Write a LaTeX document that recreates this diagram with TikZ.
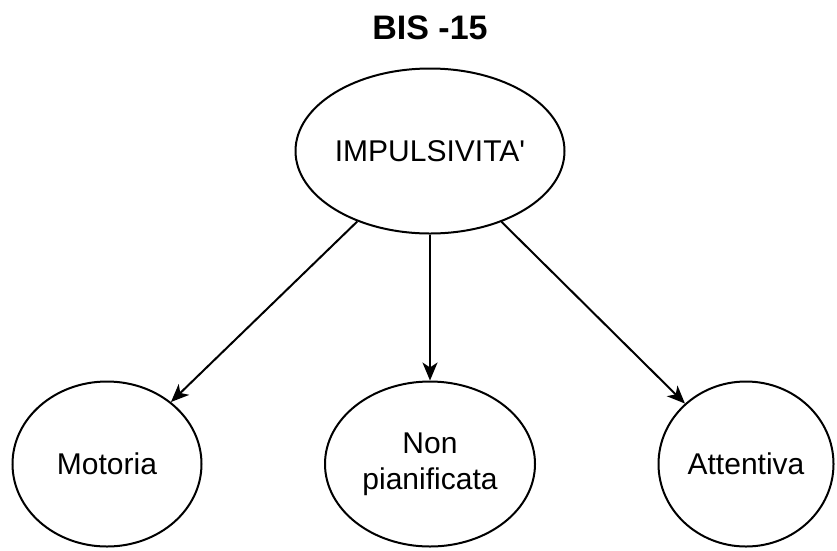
\documentclass[tikz,border=0pt]{standalone}
\usepackage{fontspec}
\setmainfont[Ligatures=TeXOff]{Liberation Sans}
\usetikzlibrary{arrows.meta,shapes.geometric}

\begin{document}
\begin{tikzpicture}[x=1pt,y=-1pt,
    factor/.style={ellipse, draw, line width=2pt, inner sep=0pt, align=center,
        minimum height=165pt, font=\fontsize{30}{36}\selectfont},
    link/.style={line width=2pt, -{Stealth[length=18pt,width=15pt,inset=5pt]}}]

\useasboundingbox (0,0) rectangle (837,550);

\node [font=\fontsize{34}{40}\selectfont\bfseries] (title) at (430,28) {BIS -15};

\node [factor, minimum width=253pt] (impuls) at (430,151) {IMPULSIVITA'};

\node [factor, minimum width=189pt] (motoria) at (107,464) {Motoria};
\node [factor, minimum width=210pt] (nonpian) at (430,464) {Non\\pianificata};
\node [factor, minimum width=175pt] (attentiva) at (746,464) {Attentiva};

\draw [link] (impuls) -- (motoria);
\draw [link] (impuls) -- (nonpian);
\draw [link] (impuls) -- (attentiva);

\end{tikzpicture}
\end{document}
